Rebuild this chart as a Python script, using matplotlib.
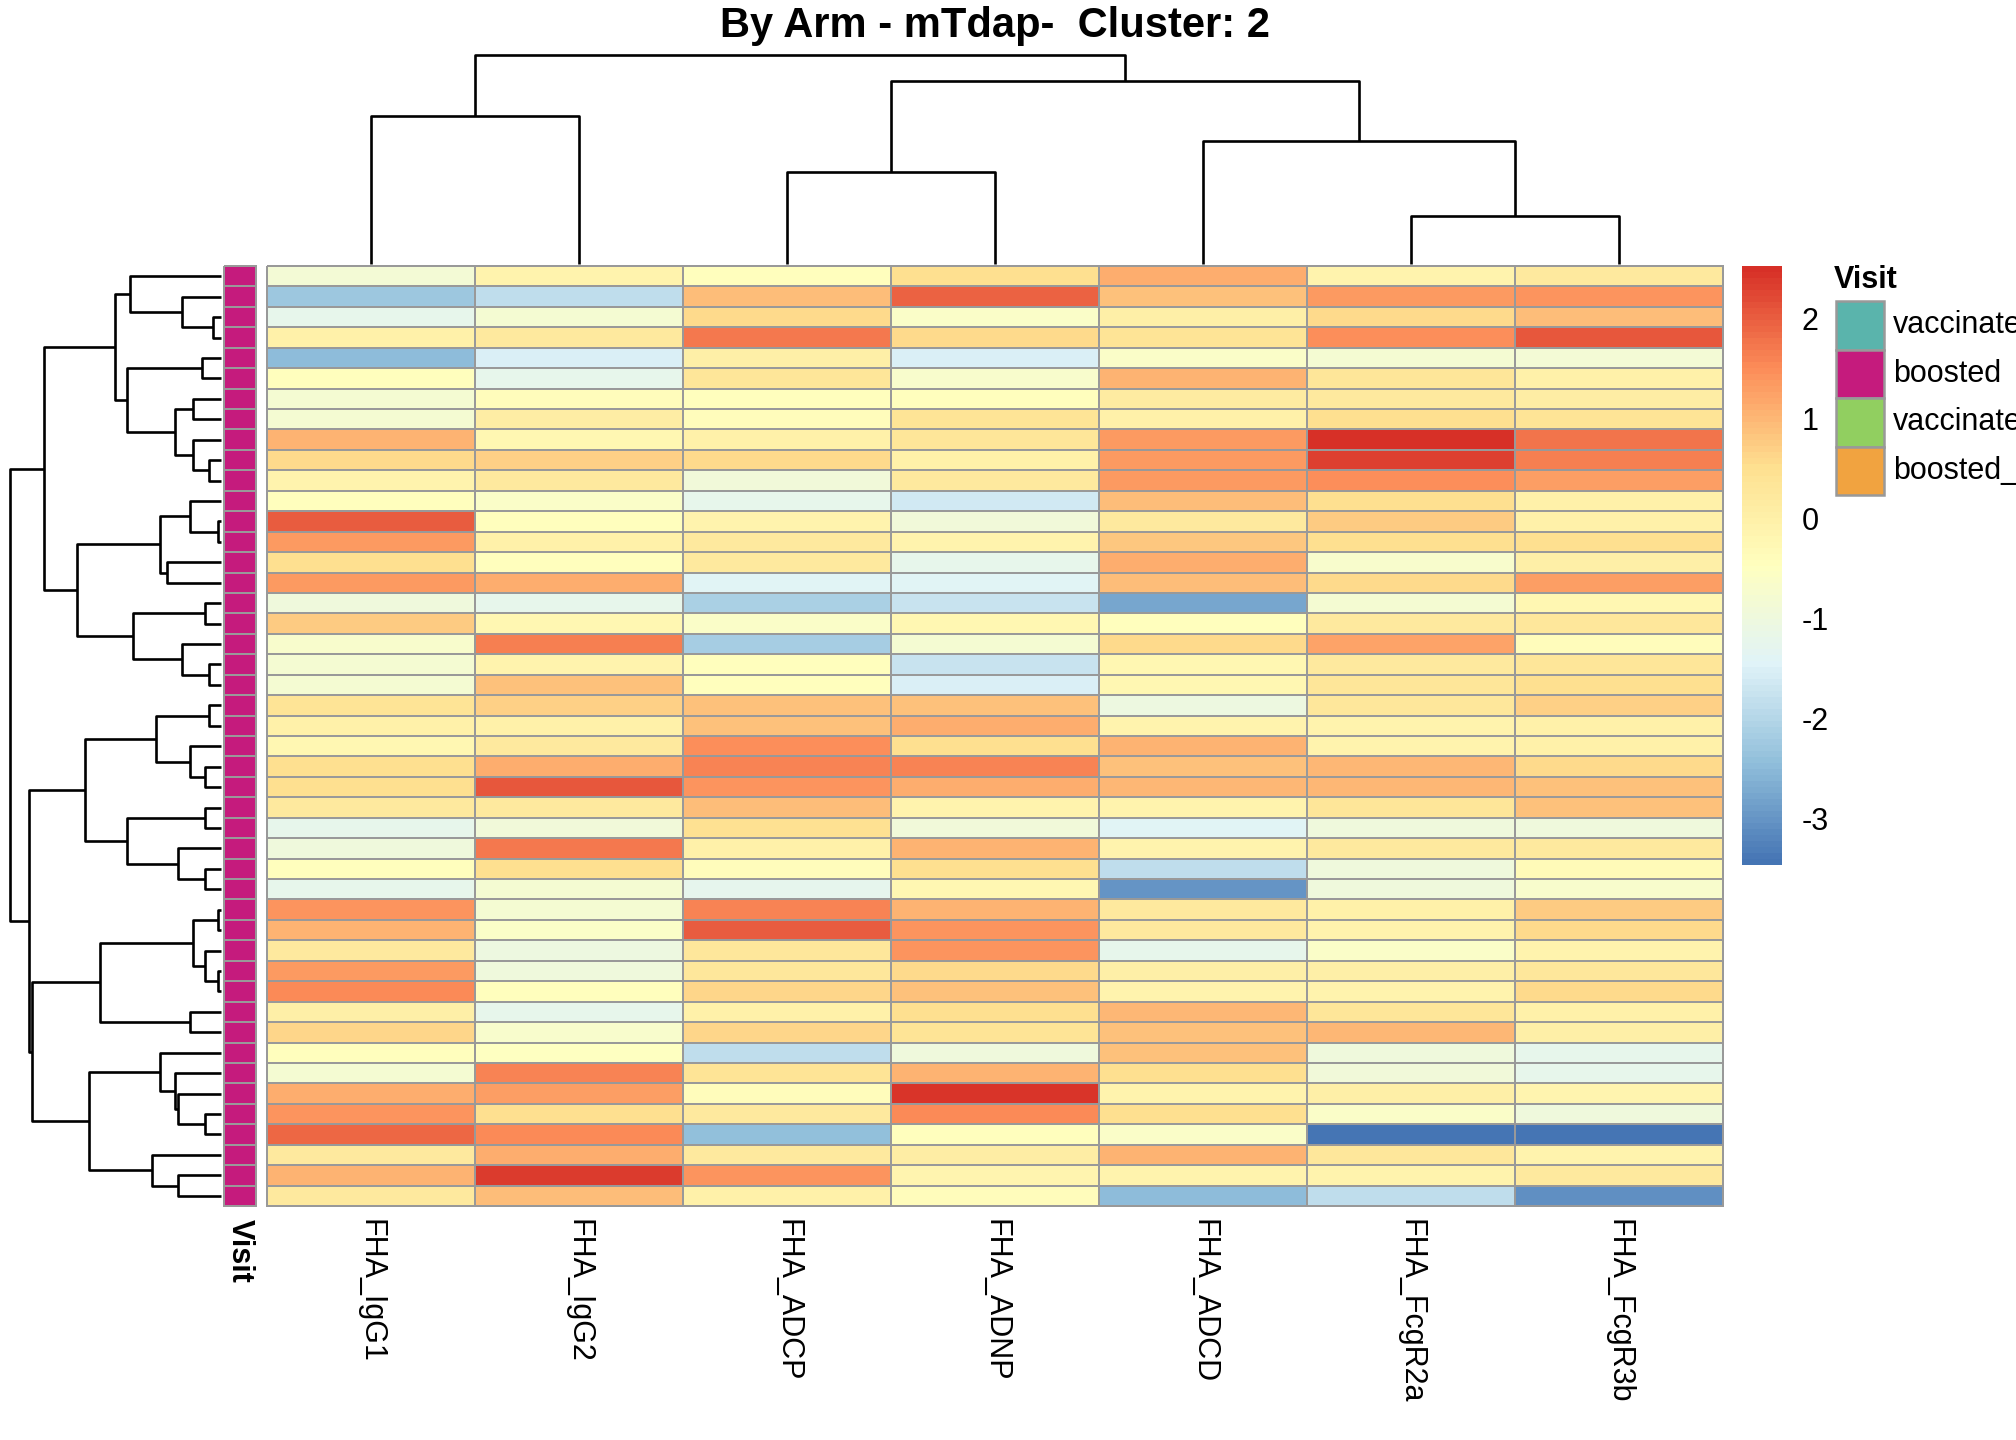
import numpy as np
import matplotlib
matplotlib.use("Agg")
import matplotlib.pyplot as plt
from matplotlib.colors import LinearSegmentedColormap, ListedColormap
from matplotlib.patches import Rectangle

plt.rcParams["font.family"] = ["Liberation Sans", "DejaVu Sans"]
plt.rcParams["axes.unicode_minus"] = False

W, H = 2016, 1440

# --- data (rows top to bottom, already in clustered order) ---
features = ["FHA_IgG1", "FHA_IgG2", "FHA_ADCP", "FHA_ADNP", "FHA_ADCD", "FHA_FcgR2a", "FHA_FcgR3b"]

fha_igg1 = [-0.85, -2.3, -1.2, 0.0, -2.5, -0.45, -0.8, -0.8, 1.05, 0.6, -0.05, -0.45, 2.05, 1.35, 0.55, 1.35,
            -0.95, 0.75, -0.7, -0.8, -0.8, 0.4, 0.0, -0.2, 0.55, 0.55, 0.2, -1.2, -0.95, -0.45, -1.2, 1.4,
            1.05, 0.25, 1.35, 1.55, 0.05, 0.65, -0.45, -0.8, 1.1, 1.4, 1.9, 0.2, 1.05, 0.25]
fha_igg2 = [-0.05, -1.9, -0.8, 0.2, -1.5, -1.2, -0.4, 0.1, -0.2, 0.7, 0.2, -0.6, -0.45, 0.0, -0.45, 1.15,
            -1.2, -0.2, 1.65, -0.05, 0.9, 0.7, 0.0, 0.25, 1.15, 2.1, 0.25, -0.9, 1.75, 0.55, -0.8, -0.8,
            -0.6, -1.05, -0.95, -0.45, -1.2, -0.7, -0.5, 1.6, 1.3, 0.55, 1.55, 1.15, 2.4, 0.95]
fha_adcp = [-0.45, 0.95, 0.6, 1.75, 0.05, 0.35, -0.45, -0.4, 0.0, 0.6, -0.9, -1.2, -0.05, 0.2, 0.2, -1.4,
            -2.1, -0.6, -2.15, -0.45, -0.45, 0.9, 0.9, 1.5, 1.6, 1.45, 0.95, 0.45, 0.0, -0.4, -1.3, 1.6,
            2.05, 0.3, 0.3, 0.65, 0.0, 0.65, -1.9, 0.4, -0.4, 0.2, -2.4, 0.2, 1.4, 0.0]
fha_adnp = [0.55, 1.95, -0.6, 0.6, -1.5, -0.65, -0.45, 0.4, 0.35, 0.0, 0.2, -1.65, -0.9, -0.05, -1.2, -1.4,
            -1.75, -0.2, -0.8, -1.75, -1.5, 0.9, 1.1, 0.5, 1.6, 1.15, -0.05, -0.9, 1.05, 0.55, -0.2, 1.05,
            1.4, 1.4, 0.6, 0.9, 0.5, 0.4, -0.95, 1.05, 2.45, 1.55, -0.45, 0.1, -0.15, -0.4]
fha_adcd = [1.15, 0.9, 0.05, 0.4, -0.6, 1.05, 0.15, 0.0, 1.35, 1.35, 1.35, 0.95, 0.25, 0.8, 1.1, 0.95,
            -2.75, -0.45, 0.6, -0.2, -0.2, -1.05, -0.05, 1.05, 0.9, 1.0, -0.05, -1.4, -0.05, -1.9, -3.0, 0.2,
            0.25, -1.2, 0.05, -0.05, 1.0, 0.9, 0.9, 0.55, -0.05, 0.55, -0.6, 1.05, -0.05, -2.5]
fha_fcgr2a = [-0.1, 1.35, 0.6, 1.5, -0.8, 0.35, 0.25, 0.5, 2.53, 2.3, 1.5, 0.5, 0.75, 0.55, -0.7, 0.6,
              -0.8, 0.2, 1.25, 0.2, 0.35, 0.3, -0.1, -0.1, 1.0, 1.0, 0.35, -0.95, 0.25, -0.95, -0.95, 0.0,
              -0.05, -0.6, 0.05, -0.1, 0.35, 1.0, -0.95, -0.9, 0.05, -0.6, -3.46, 0.3, -0.05, -1.9]
fha_fcgr3b = [0.2, 1.4, 0.95, 2.1, -0.85, 0.0, 0.1, 0.4, 1.8, 1.65, 1.3, 0.0, 0.0, 0.5, 0.05, 1.3,
              -0.2, 0.3, -0.4, 0.35, 0.5, 0.7, 0.0, 0.0, 0.6, 0.9, 0.9, -0.95, 0.25, -0.3, -0.7, 0.75,
              0.6, -0.05, 0.3, 0.6, 0.0, 0.05, -1.2, -1.2, -0.15, -0.95, -3.46, -0.05, 0.2, -3.1]

visit = ["boosted"] * 46
visit_levels = ["vaccinated", "boosted", "vaccinated_2", "boosted_2"]
visit_colors = ["#5AB4AC", "#C51B7D", "#91CF60", "#F1A340"]

# dendrograms: (left, right, height), leaves are row/column indices
row_tree = (
    ((((0, (1, (2, 3, 19), 87), 203),
       ((4, 5, 43), ((6, 7, 62), (8, (9, 10, 28), 62), 102), 211), 237),
      (((11, (12, 13, 7), 69), (14, 15, 121), 137),
       ((16, 17, 35), (18, (19, 20, 28), 87), 197), 322), 396)),
    ((((21, 22, 28), (23, (24, 25, 35), 69), 145),
      ((26, 27, 35), (28, (29, 30, 35), 96), 211), 305),
     (((((31, 32, 7), (33, (34, 35, 7), 35), 62), (36, 37, 69), 271),
       ((38, (39, (40, (41, 42, 35), 96), 102), 137), (43, (44, 45, 96), 154), 295), 423)), 430),
    473,
)
col_tree = ((0, 1, 115), ((2, 3, 71), (4, (5, 6, 37), 95), 142), 162)

mat = np.array([fha_igg1, fha_igg2, fha_adcp, fha_adnp, fha_adcd, fha_fcgr2a, fha_fcgr3b]).T
n_rows, n_cols = mat.shape

# pheatmap default palette: rev(RdYlBu, 7) -> 100 colours
rdylbu7 = ["#D73027", "#FC8D59", "#FEE090", "#FFFFBF", "#E0F3F8", "#91BFDB", "#4575B4"]
ramp = LinearSegmentedColormap.from_list("ramp", rdylbu7[::-1])
cmap = ListedColormap(ramp(np.linspace(0, 1, 100)))
vmin, vmax = float(mat.min()), float(mat.max())

BORDER = "#999999"


def px_axes(fig, x0, y0, x1, y1):
    ax = fig.add_axes([x0 / W, 1 - y1 / H, (x1 - x0) / W, (y1 - y0) / H])
    ax.set_axis_off()
    return ax


def draw_tree(ax, node, orient):
    if isinstance(node, int):
        return node + 0.5, 0.0
    left, right, h = node
    p1, h1 = draw_tree(ax, left, orient)
    p2, h2 = draw_tree(ax, right, orient)
    if orient == "row":
        ax.plot([h1, h, h, h2], [p1, p1, p2, p2], color="black", lw=1.9, clip_on=False,
                solid_capstyle="butt")
    else:
        ax.plot([p1, p1, p2, p2], [h1, h, h, h2], color="black", lw=1.9, clip_on=False,
                solid_capstyle="butt")
    return (p1 + p2) / 2, h


fig = plt.figure(figsize=(W / 100, H / 100), dpi=100)

hx0, hy0, hx1, hy1 = 267, 266, 1723, 1206

# heatmap
ax = px_axes(fig, hx0, hy0, hx1, hy1)
ax.pcolormesh(mat, cmap=cmap, vmin=vmin, vmax=vmax, edgecolors=BORDER, linewidth=1.4, clip_on=False)
ax.set_xlim(0, n_cols)
ax.set_ylim(n_rows, 0)

# annotation column
ax_ann = px_axes(fig, 224, hy0, 256, hy1)
codes = np.array([[visit_levels.index(v)] for v in visit])
ax_ann.pcolormesh(codes, cmap=ListedColormap(visit_colors), vmin=-0.5, vmax=len(visit_levels) - 0.5,
                  edgecolors=BORDER, linewidth=1.4, clip_on=False)
ax_ann.set_xlim(0, 1)
ax_ann.set_ylim(n_rows, 0)

# row dendrogram
ax_rd = px_axes(fig, 10, hy0, 221, hy1)
draw_tree(ax_rd, row_tree, "row")
ax_rd.set_xlim(row_tree[2], 0)
ax_rd.set_ylim(n_rows, 0)

# column dendrogram
ax_cd = px_axes(fig, hx0, 55, hx1, 264)
draw_tree(ax_cd, col_tree, "col")
ax_cd.set_xlim(0, n_cols)
ax_cd.set_ylim(0, col_tree[2])

# colour bar
cax = fig.add_axes([1742 / W, 1 - 865 / H, 40 / W, (865 - 266) / H])
sm = plt.cm.ScalarMappable(cmap=cmap, norm=plt.Normalize(vmin, vmax))
cb = fig.colorbar(sm, cax=cax, ticks=[-3, -2, -1, 0, 1, 2])
cb.outline.set_visible(False)
cax.tick_params(length=0, labelsize=22, pad=14)

# overlay for texts and legend
ov = fig.add_axes([0, 0, 1, 1])
ov.set_xlim(0, W)
ov.set_ylim(H, 0)
ov.set_axis_off()

ov.text((hx0 + hx1) / 2, 26, "By Arm - mTdap-  Cluster: 2", ha="center", va="center",
        fontsize=30, fontweight="bold", family=["Liberation Sans Narrow", "Liberation Sans", "DejaVu Sans"])

col_w = (hx1 - hx0) / n_cols
for i, name in enumerate(features):
    ov.text(hx0 + (i + 0.5) * col_w, 1219, name, rotation=270, ha="center", va="top", fontsize=22)
ov.text(240, 1219, "Visit", rotation=270, ha="center", va="top", fontsize=22, fontweight="bold")

# legend for Visit
ov.text(1834, 280, "Visit", ha="left", va="center", fontsize=22, fontweight="bold")
box_h = 48.5
for k, (lab, col) in enumerate(zip(visit_levels, visit_colors)):
    y0 = 301 + k * box_h
    ov.add_patch(Rectangle((1836, y0), 48, box_h, facecolor=col, edgecolor=BORDER, lw=1.8))
    ov.text(1893, y0 + box_h / 2, lab, ha="left", va="center", fontsize=22)

fig.savefig("out.png", dpi=100)
